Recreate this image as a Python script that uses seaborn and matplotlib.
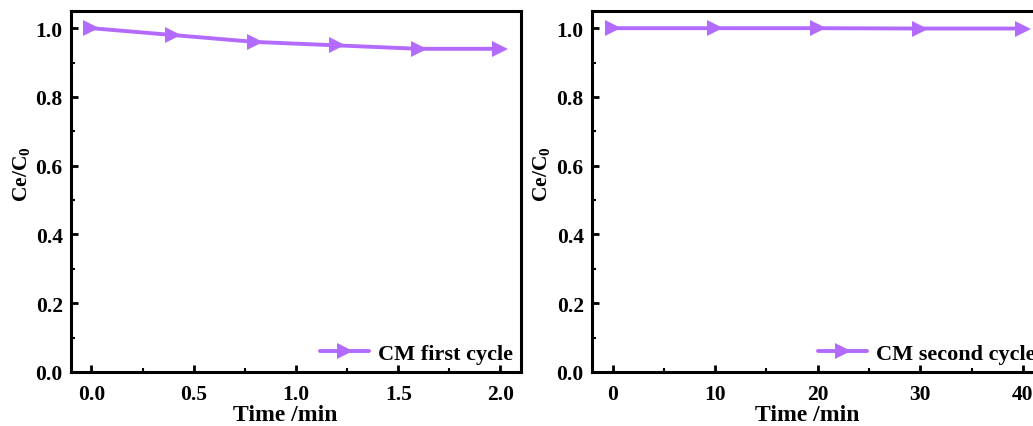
import numpy as np
import pandas as pd
import matplotlib
matplotlib.use("Agg")
import matplotlib.pyplot as plt
import seaborn as sns
from matplotlib.ticker import MultipleLocator

# -----------------------------
# DATA
# -----------------------------
time_first = [0.0, 0.4, 0.8, 1.2, 1.6, 2.0]
ratio_first = [1.0, 0.98, 0.96, 0.95, 0.94, 0.94]

time_second = [0, 10, 20, 30, 40]
ratio_second = [1.0, 1.0, 1.0, 0.999, 0.999]

label_first = "CM first cycle"
label_second = "CM second cycle"

PURPLE = "#B36BFF"

# -----------------------------
# STYLE
# -----------------------------
sns.set_style("ticks")
plt.rcParams["font.family"] = ["Liberation Serif", "DejaVu Serif"]
plt.rcParams["font.weight"] = "bold"
plt.rcParams["mathtext.fontset"] = "custom"
plt.rcParams["mathtext.rm"] = "Liberation Serif:bold"
plt.rcParams["mathtext.bf"] = "Liberation Serif:bold"
for key in ["text.color", "axes.labelcolor", "xtick.color", "ytick.color"]:
    plt.rcParams[key] = "black"

fig = plt.figure(figsize=(10.33, 4.27), dpi=100)
ax1 = fig.add_axes([0.0687, 0.1265, 0.4356, 0.8454])
ax2 = fig.add_axes([0.5731, 0.1265, 0.4370, 0.8454])

df1 = pd.DataFrame({"t": time_first, "r": ratio_first, "s": label_first})
df2 = pd.DataFrame({"t": time_second, "r": ratio_second, "s": label_second})


def style_axis(ax, xlim, xmajor, xminor, xfmt, ylab_x):
    ax.set_xlim(*xlim)
    ax.set_ylim(0, 1.05)
    ax.xaxis.set_major_locator(MultipleLocator(xmajor))
    ax.xaxis.set_minor_locator(MultipleLocator(xminor))
    ax.yaxis.set_major_locator(MultipleLocator(0.2))
    ax.yaxis.set_minor_locator(MultipleLocator(0.1))
    ax.xaxis.set_major_formatter(xfmt)
    ax.yaxis.set_major_formatter(lambda v, p: f"{v:.1f}")
    ax.tick_params(which="major", direction="in", length=5, width=2,
                   labelsize=15.5, colors="black")
    ax.tick_params(axis="x", which="major", pad=9)
    ax.tick_params(axis="y", which="major", pad=6)
    ax.tick_params(which="minor", direction="in", length=3, width=1.5,
                   colors="black")
    ax.tick_params(top=False, right=False, which="both")
    for sp in ax.spines.values():
        sp.set_visible(True)
        sp.set_linewidth(2.2)
        sp.set_color("black")
    for lab in ax.get_xticklabels() + ax.get_yticklabels():
        lab.set_fontweight("bold")
    ax.set_xlabel("Time /min", fontsize=17, fontweight="bold")
    ax.xaxis.set_label_coords(0.477, -0.09)
    ax.set_ylabel("Ce/C$_{0}$", fontsize=15.5, fontweight="bold")
    ax.yaxis.set_label_coords(ylab_x, 0.551)
    leg = ax.legend(loc="lower right", frameon=False,
                    handlelength=2.2, handletextpad=0.4,
                    borderaxespad=0.15, borderpad=0.2,
                    prop={"weight": "bold", "size": 16})
    for t in leg.get_texts():
        t.set_color("black")


for ax, df in [(ax1, df1), (ax2, df2)]:
    sns.lineplot(data=df, x="t", y="r", hue="s", palette=[PURPLE],
                 marker=">", markersize=11, markeredgewidth=0,
                 linewidth=2.8, ax=ax)

style_axis(ax1, (-0.1, 2.1), 0.5, 0.25, lambda v, p: f"{v:.1f}", -0.084)
style_axis(ax2, (-2, 42), 10, 5, lambda v, p: f"{v:.0f}", -0.086)

plt.savefig("out.png", dpi=100)
